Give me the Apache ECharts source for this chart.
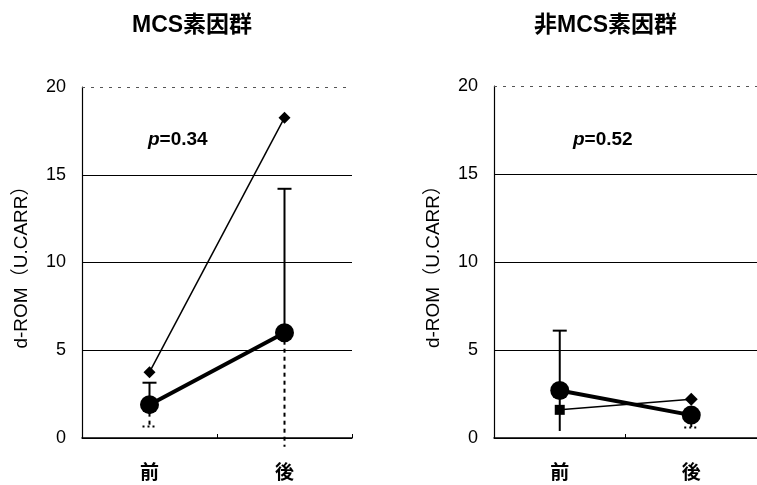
<!DOCTYPE html>
<html><head><meta charset="utf-8">
<script src="https://cdn.jsdelivr.net/npm/echarts@6/dist/echarts.min.js"></script>
<style>html,body{margin:0;padding:0;background:#fff}#c{width:757px;height:485px}</style>
</head><body><div id="c"></div>
<script>
var categories = ['前', '後'];
var yTicks = [0, 5, 10, 15, 20];
// MCS素因群
var mcsMean = [1.9, 6.0];
var mcsUpper = [3.15, 14.2];
var mcsLower = [0.65, -0.5];
var mcsOther = [3.75, 18.25];
// 非MCS素因群
var nonMean = [2.7, 1.3];
var nonUpper = [6.1, null];
var nonLower = [0.4, 0.6];
var nonOther = [1.6, 2.2];
var pTexts = ['0.34', '0.52'];
var titles = ['MCS素因群', '非MCS素因群'];

var FONT = '"Liberation Sans", "Noto Sans CJK JP", sans-serif';
var chart = echarts.init(document.getElementById('c'));

function errSeries(idx, mean, up, lo, dashedLower) {
  var data = categories.map(function (c, i) { return [i, mean[i], up[i], lo[i]]; });
  return {
    type: 'custom', xAxisIndex: idx, yAxisIndex: idx, clip: false, z: 1,
    data: data,
    renderItem: function (params, api) {
      var x = api.value(0), m = api.value(1), u = api.value(2), l = api.value(3);
      var pm = api.coord([x, m]);
      var children = [];
      var cap = 7;
      if (!isNaN(u) && u !== null && u > m) {
        var pu = api.coord([x, u]);
        children.push({ type: 'line', shape: { x1: pm[0], y1: pm[1], x2: pu[0], y2: pu[1] }, style: { stroke: '#000', lineWidth: 2 } });
        children.push({ type: 'line', shape: { x1: pu[0] - cap, y1: pu[1], x2: pu[0] + cap, y2: pu[1] }, style: { stroke: '#000', lineWidth: 2 } });
      }
      if (!isNaN(l) && l !== null) {
        var pl = api.coord([x, l]);
        var dashed = dashedLower[params.dataIndex];
        children.push({ type: 'line', shape: { x1: pm[0], y1: pm[1], x2: pl[0], y2: pl[1] }, style: { stroke: '#000', lineWidth: 2, lineDash: dashed ? [4, 4] : null } });
        if (dashed === 'cap') {
          children.push({ type: 'line', shape: { x1: pl[0] - cap, y1: pl[1], x2: pl[0] + cap, y2: pl[1] }, style: { stroke: '#000', lineWidth: 2, lineDash: [2, 3] } });
        }
      }
      return { type: 'group', children: children };
    }
  };
}

function gridAxes(idx) {
  return {
    x: {
      type: 'category', gridIndex: idx, data: categories, boundaryGap: true,
      axisLine: { lineStyle: { color: '#000', width: 1.5 } },
      axisTick: { show: true, inside: true, length: 4, lineStyle: { color: '#000' } },
      axisLabel: { color: '#000', fontSize: 19, fontWeight: 'bold', fontFamily: FONT, margin: 26 },
      splitLine: { show: false }
    },
    y: {
      type: 'value', gridIndex: idx, min: yTicks[0], max: yTicks[yTicks.length - 1], interval: yTicks[1] - yTicks[0],
      name: 'd-ROM（U.CARR）', nameLocation: 'middle', nameGap: 51, nameRotate: 90,
      nameTextStyle: { color: '#000', fontSize: 19, fontFamily: FONT },
      axisLine: { show: true, lineStyle: { color: '#000', width: 1.2 } },
      axisTick: { show: false },
      axisLabel: { color: '#000', fontSize: 18, fontFamily: FONT, margin: 16 },
      splitLine: { show: true, lineStyle: { color: ['#000', '#000', '#000', '#000', 'rgba(0,0,0,0)'], width: 1.2 } }
    }
  };
}
var a0 = gridAxes(0), a1 = gridAxes(1);

function topDotted(idx) {
  return {
    type: 'line', xAxisIndex: idx, yAxisIndex: idx, data: [], silent: true,
    markLine: { symbol: 'none', silent: true, label: { show: false },
      lineStyle: { color: '#555', type: [3, 6], width: 1.2 }, data: [{ yAxis: yTicks[yTicks.length - 1] }] }
  };
}

function pTitle(i, left) {
  return {
    text: '{i|p}=' + pTexts[i], left: left, top: 125,
    textStyle: { color: '#000', fontSize: 19, fontWeight: 'bold', fontFamily: FONT,
      rich: { i: { fontStyle: 'italic', fontWeight: 'bold', fontSize: 19, fontFamily: FONT, color: '#000' } } }
  };
}

chart.setOption({
  animation: false,
  backgroundColor: '#fff',
  title: [
    { text: titles[0], left: 127, top: 9, textStyle: { color: '#000', fontSize: 23, fontWeight: 'bold', fontFamily: FONT } },
    { text: titles[1], left: 529, top: 9, textStyle: { color: '#000', fontSize: 23, fontWeight: 'bold', fontFamily: FONT } },
    pTitle(0, 143), pTitle(1, 568)
  ],
  grid: [
    { left: 82, top: 87, width: 270, height: 351 },
    { left: 494, top: 86, width: 271, height: 352 }
  ],
  xAxis: [a0.x, a1.x],
  yAxis: [a0.y, a1.y],
  series: [
    topDotted(0), topDotted(1),
    errSeries(0, mcsMean, mcsUpper, mcsLower, ['cap', true]),
    errSeries(1, nonMean, nonUpper, nonLower, [false, 'cap']),
    { type: 'line', xAxisIndex: 0, yAxisIndex: 0, data: mcsOther, symbol: 'diamond', symbolSize: 12,
      lineStyle: { color: '#000', width: 1.5 }, itemStyle: { color: '#000' }, z: 3 },
    { type: 'line', xAxisIndex: 0, yAxisIndex: 0, data: mcsMean, symbol: 'circle', symbolSize: 19,
      lineStyle: { color: '#000', width: 4 }, itemStyle: { color: '#000' }, z: 3 },
    { type: 'line', xAxisIndex: 1, yAxisIndex: 1, data: nonOther,
      symbol: function (v, p) { return p.dataIndex === 0 ? 'rect' : 'diamond'; },
      symbolSize: function (v, p) { return p.dataIndex === 0 ? 10 : 13; },
      lineStyle: { color: '#000', width: 1.5 }, itemStyle: { color: '#000' }, z: 3 },
    { type: 'line', xAxisIndex: 1, yAxisIndex: 1, data: nonMean, symbol: 'circle', symbolSize: 19,
      lineStyle: { color: '#000', width: 4 }, itemStyle: { color: '#000' }, z: 3 }
  ]
});
</script></body></html>
